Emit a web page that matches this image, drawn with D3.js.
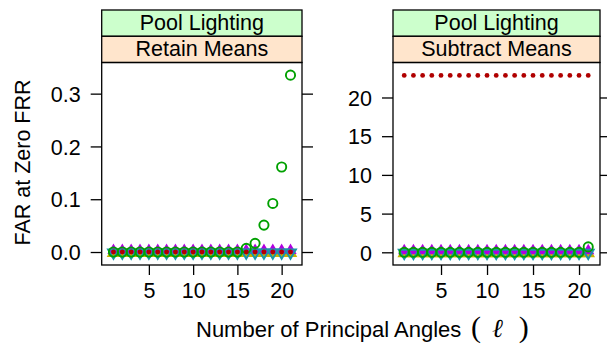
<!DOCTYPE html>
<html><head><meta charset="utf-8">
<script src="https://cdn.jsdelivr.net/npm/d3@7"></script>
<style>body{margin:0;background:#fff}svg{display:block}text{font-family:"Liberation Sans",Arial,Helvetica,sans-serif;fill:#000}</style>
</head><body>
<svg id="c" width="607" height="344"></svg>
<script>
// ---- data ----
const xs = d3.range(1, 22);
const zeros = xs.map(() => 0);
const stripTop = ["Pool Lighting", "Pool Lighting"];
const stripBottom = ["Retain Means", "Subtract Means"];
const xTicks = [5, 10, 15, 20];
const yTicksLeft = [0.0, 0.1, 0.2, 0.3];
const yTickLabelsLeft = ["0.0", "0.1", "0.2", "0.3"];
const yTicksRight = [0, 5, 10, 15, 20];
// Left panel (Retain Means)
const leftOlive = zeros;
const leftPurple = zeros;
const leftTeal = zeros;
const leftGreen = [0,0,0,0,0,0,0,0,0,0,0,0,0,0,0,0.007,0.0164,0.051,0.092,0.161,0.335];
const leftRed = zeros;
// Right panel (Subtract Means)
const rightOlive = zeros;
const rightPurple = zeros;
const rightTeal = zeros;
const rightGreen = [0,0,0,0,0,0,0,0,0,0,0,0,0,0,0,0,0,0,0,0,0.7];
const rightRed = xs.map(() => 22.85);

const FS = 21.5;
const svg = d3.select("#c");
const panels = [
  {x0: 101.7, x1: 302, xd: [-0.33, 22.3], yd: [-0.0246, 0.359], yt: yTicksLeft, ytl: yTickLabelsLeft,
   series: [leftOlive, leftPurple, leftTeal, leftGreen, leftRed]},
  {x0: 393, x1: 600, xd: [-0.22, 22.28], yd: [-1.64, 24.52], yt: yTicksRight, ytl: yTicksRight.map(String),
   series: [rightOlive, rightPurple, rightTeal, rightGreen, rightRed]}
];
const yTop = 10, s1 = 36.3, s2 = 62.5, yBot = 265;

const triUp = d3.symbol().type(d3.symbolTriangle);

panels.forEach((p, i) => {
  const x = d3.scaleLinear().domain(p.xd).range([p.x0, p.x1]);
  const y = d3.scaleLinear().domain(p.yd).range([yBot, s2]);
  const g = svg.append("g");
  // strips
  g.append("rect").attr("x", p.x0).attr("y", yTop).attr("width", p.x1 - p.x0).attr("height", s1 - yTop)
    .attr("fill", "#ccffcc").attr("stroke", "#000").attr("stroke-width", 1.3);
  g.append("rect").attr("x", p.x0).attr("y", s1).attr("width", p.x1 - p.x0).attr("height", s2 - s1)
    .attr("fill", "#ffe5cc").attr("stroke", "#000").attr("stroke-width", 1.3);
  g.append("text").attr("x", (p.x0 + p.x1) / 2).attr("y", 30).attr("text-anchor", "middle")
    .attr("font-size", FS).text(stripTop[i]);
  g.append("text").attr("x", (p.x0 + p.x1) / 2).attr("y", 56).attr("text-anchor", "middle")
    .attr("font-size", FS).text(stripBottom[i]);

  // axes
  const ax = g.append("g").attr("transform", `translate(0,${yBot})`)
    .call(d3.axisBottom(x).tickValues(xTicks).tickSize(10).tickFormat(d3.format("d")));
  const al = g.append("g").attr("transform", `translate(${p.x0},0)`)
    .call(d3.axisLeft(y).tickValues(p.yt).tickSize(11).tickPadding(10).tickFormat((d, k) => p.ytl[k]));
  const ar = g.append("g").attr("transform", `translate(${p.x1},0)`)
    .call(d3.axisRight(y).tickValues(p.yt).tickSize(11).tickFormat(""));
  [ax, al, ar].forEach(a => {
    a.select(".domain").remove();
    a.selectAll("line").attr("stroke", "#000").attr("stroke-width", 1.3);
    a.selectAll("text").attr("font-size", FS).attr("font-family", '"Liberation Sans",Arial,sans-serif').attr("fill", "#000");
  });
  ax.selectAll("text").attr("dy", null).attr("y", 33);
  al.selectAll("text").attr("dy", "0.36em");

  const clipId = "clip" + i;
  svg.append("clipPath").attr("id", clipId).append("rect")
    .attr("x", p.x0).attr("y", s2).attr("width", p.x1 - p.x0).attr("height", yBot - s2);
  const pg = g.append("g").attr("clip-path", `url(#${clipId})`);

  const [olive, purple, teal, green, red] = p.series;
  pg.selectAll(".ol").data(olive).join("path")
    .attr("d", triUp.size(80)()).attr("transform", (d, k) => `translate(${x(xs[k])},${y(d) + 1})`)
    .attr("fill", "#c8b400");
  pg.selectAll(".pu").data(purple).join("path")
    .attr("d", triUp.size(65)()).attr("transform", (d, k) => `translate(${x(xs[k])},${y(d) - 1.5})`)
    .attr("fill", "#b000e0");
  pg.selectAll(".te").data(teal).join("path")
    .attr("d", triUp.size(50)()).attr("transform", (d, k) => `translate(${x(xs[k])},${y(d) + 0.5}) rotate(180)`)
    .attr("fill", "none").attr("stroke", "#1a95a8").attr("stroke-width", 2);
  pg.selectAll(".gr").data(green).join("circle")
    .attr("cx", (d, k) => x(xs[k])).attr("cy", d => y(d)).attr("r", 4.6)
    .attr("fill", "none").attr("stroke", "#00a000").attr("stroke-width", 1.9);
  pg.selectAll(".rd").data(red).join("circle")
    .attr("cx", (d, k) => x(xs[k])).attr("cy", d => y(d)).attr("r", 2.4)
    .attr("fill", "#b00000");

  // panel border
  g.append("rect").attr("x", p.x0).attr("y", s2).attr("width", p.x1 - p.x0).attr("height", yBot - s2)
    .attr("fill", "none").attr("stroke", "#000").attr("stroke-width", 1.3);
});

// axis titles
svg.append("text").attr("x", 196).attr("y", 336.5).attr("font-size", 22).text("Number of Principal Angles");
const t = svg.append("text").attr("x", 471).attr("y", 337)
  .style("font-family", '"Liberation Serif","DejaVu Serif",serif').attr("font-size", 30);
t.append("tspan").text("(");
t.append("tspan").attr("dx", 11).attr("font-style", "italic").style("font-family", '"DejaVu Serif",serif').attr("font-size", 26).text("ℓ");
t.append("tspan").attr("dx", 16).text(")");
svg.append("text").attr("transform", "translate(30,162.5) rotate(-90)").attr("text-anchor", "middle")
  .attr("font-size", FS).text("FAR at Zero FRR");
</script>
</body></html>
